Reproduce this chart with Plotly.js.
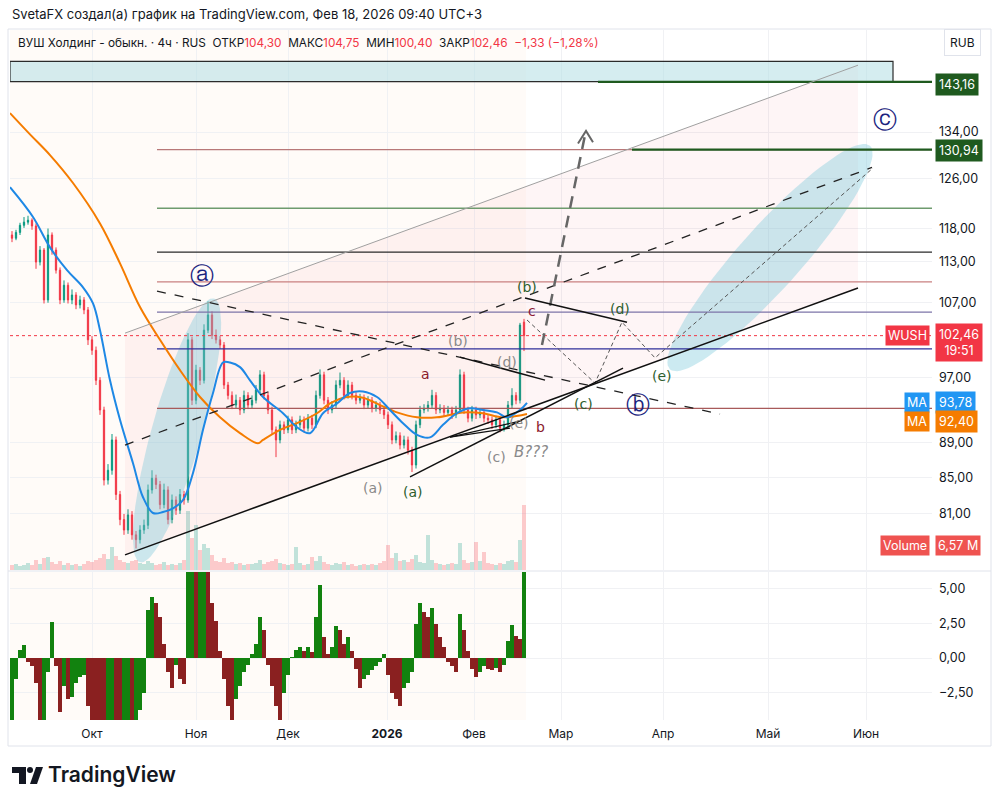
<!DOCTYPE html>
<html><head><meta charset="utf-8">
<script src="https://cdn.plot.ly/plotly-3.0.1.min.js"></script>
<style>body{margin:0;background:#fff}#chart{width:1000px;height:804px}</style>
</head><body><div id="chart"></div>
<script>
// ---------- DATA (4h bars, index units) ----------
const barOpen = [117.0,116.5,117.4,118.5,119.0,119.3,118.4,112.9,114.7,107.4,
117.0,114.7,111.7,107.4,109.5,107.4,108.1,106.7,107.4,106.0,
101.9,100.5,96.6,92.9,84.7,85.8,89.3,83.1,80.4,79.3,
80.9,78.8,78.3,79.3,79.8,83.6,84.9,84.2,82.0,83.6,
80.4,82.5,81.4,83.1,82.5,101.9,94.1,97.9,96.6,103.2,
105.3,102.5,101.9,101.2,96.0,94.7,93.5,94.1,92.9,94.7,
93.5,94.1,95.4,97.3,94.7,92.9,90.5,89.3,91.1,90.5,
91.7,90.5,91.1,91.7,90.7,91.9,91.1,94.7,97.3,94.1,
92.9,93.5,96.0,96.6,94.7,96.0,94.7,94.1,94.4,93.5,
94.1,93.1,93.5,92.9,92.3,91.1,89.3,89.8,88.7,89.3,
88.1,86.4,91.1,92.9,93.1,93.5,94.7,92.9,93.1,92.6,
92.9,92.3,92.9,97.3,92.9,91.9,92.9,92.3,92.6,91.9,
91.7,91.1,91.7,90.7,91.1,93.5,94.7,94.1,104.30];
const barHigh = [117.6,117.8,118.9,119.8,120.0,119.6,118.8,115.3,115.0,118.0,
117.4,115.1,112.1,110.2,109.9,108.9,108.5,108.0,107.8,106.4,
102.4,101.0,97.0,93.3,86.5,90.0,89.7,83.5,81.0,81.5,
81.3,79.2,79.8,80.4,84.2,85.8,85.3,84.6,84.3,84.0,
83.1,82.9,83.7,83.5,102.8,102.3,98.6,98.3,104.0,107.2,
105.8,103.3,102.4,101.6,96.4,95.2,94.8,94.5,95.3,95.1,
94.7,96.0,97.9,97.7,95.1,93.3,90.9,91.6,91.5,92.2,
92.1,91.6,92.2,92.1,92.4,92.3,95.3,98.0,97.7,94.5,
94.0,96.6,97.6,97.0,96.6,96.4,95.1,94.9,94.8,94.6,
94.5,94.0,93.9,93.3,92.7,91.5,90.3,90.2,89.8,89.7,
88.5,91.6,93.4,93.6,94.0,95.4,95.1,93.6,93.5,93.4,
93.3,93.4,98.0,97.7,93.3,93.4,93.3,93.1,93.0,92.3,
92.1,92.2,92.1,91.6,94.0,95.6,95.1,104.2,104.75];
const barLow = [115.9,116.2,117.0,118.1,118.6,117.8,111.9,112.4,106.9,107.0,
114.0,111.2,106.8,107.0,106.9,106.8,106.1,106.2,105.4,101.2,
99.9,96.0,92.3,84.1,84.2,85.3,82.5,79.8,78.8,78.9,
78.3,77.4,77.9,78.9,79.4,83.2,83.7,81.5,81.6,79.9,
80.0,80.9,81.0,82.0,82.2,93.5,93.6,96.0,96.2,102.8,
102.0,101.4,100.7,95.5,94.2,93.0,93.1,92.3,92.5,93.0,
93.1,93.7,95.0,94.2,92.4,90.0,87.3,88.9,90.0,90.1,
90.0,90.1,90.7,90.2,90.3,90.6,90.7,94.3,93.6,92.4,
92.5,93.1,95.6,94.2,94.3,94.2,93.6,93.7,93.0,93.1,
92.6,92.7,92.4,91.8,90.6,88.8,88.9,88.2,88.3,87.6,
85.6,86.0,90.7,92.5,92.7,93.1,92.4,92.5,92.1,92.2,
91.8,91.9,92.5,92.4,91.4,91.5,91.8,91.9,91.4,91.2,
90.6,90.7,90.2,90.3,90.7,93.1,93.6,93.7,100.40];
const barClose = [116.5,117.4,118.5,119.0,119.3,118.4,112.9,114.7,107.4,117.0,
114.7,111.7,107.4,109.5,107.4,108.1,106.7,107.4,106.0,101.9,
100.5,96.6,92.9,84.7,85.8,89.3,83.1,80.4,79.3,80.9,
78.8,78.3,79.3,79.8,83.6,84.9,84.2,82.0,83.6,80.4,
82.5,81.4,83.1,82.5,101.9,94.1,97.9,96.6,103.2,105.3,
102.5,101.9,101.2,96.0,94.7,93.5,94.1,92.9,94.7,93.5,
94.1,95.4,97.3,94.7,92.9,90.5,89.3,91.1,90.5,91.7,
90.5,91.1,91.7,90.7,91.9,91.1,94.7,97.3,94.1,92.9,
93.5,96.0,96.6,94.7,96.0,94.7,94.1,94.4,93.5,94.1,
93.1,93.5,92.9,92.3,91.1,89.3,89.8,88.7,89.3,88.1,
86.4,91.1,92.9,93.1,93.5,94.7,92.9,93.1,92.6,92.9,
92.3,92.9,97.3,92.9,91.9,92.9,92.3,92.6,91.9,91.7,
91.1,91.7,90.7,91.1,93.5,94.7,94.1,103.9,102.46];
const barVolume = [0.5,0.6,0.4,0.5,0.7,0.5,1.0,0.6,1.2,1.3,
0.8,0.6,0.9,0.5,0.7,0.5,0.6,0.4,0.6,0.9,
0.8,1.0,1.2,1.6,1.1,2.3,1.4,1.0,0.8,0.7,
0.9,1.0,0.7,0.6,0.9,0.7,0.5,0.6,0.8,0.5,
0.6,0.5,0.7,1.0,6.0,3.2,4.5,2.0,2.6,2.2,
1.5,0.9,0.8,1.2,0.7,0.8,0.6,0.7,0.5,0.6,
0.6,0.7,1.0,0.6,0.8,0.9,1.1,0.7,0.6,0.5,
0.6,2.3,0.7,0.5,0.6,1.3,0.9,1.4,0.8,0.6,
0.5,0.7,0.6,0.8,0.5,0.6,0.4,0.5,0.6,0.5,
0.6,0.5,0.7,0.9,2.5,1.2,1.7,0.9,1.0,0.8,
1.1,1.5,0.8,0.7,3.5,1.0,0.7,0.6,0.5,0.6,
0.7,0.6,2.7,1.0,0.7,0.8,2.8,0.9,1.8,0.7,
0.6,0.5,0.7,0.6,0.9,1.0,0.8,3.0,6.57];
const oscValues = [-5.0,-1.5,0.6,0.95,-0.3,-0.6,-1.8,-5.2,-5.0,-1.0,
2.6,-0.6,-3.9,-2.0,-3.0,-2.8,-1.8,-1.4,-1.2,-3.5,
-4.8,-5.5,-6.0,-6.5,-6.0,-5.5,-6.2,-6.8,-6.5,-6.0,
-6.4,-6.2,-3.8,-2.5,3.5,4.4,4.0,3.0,1.0,-1.0,
-2.2,-0.5,-1.5,-1.9,7.0,8.0,7.5,8.2,8.5,8.0,
4.0,2.7,0.5,-1.5,-3.5,-4.8,-3.0,-2.0,-1.0,-0.5,
0.3,1.0,3.0,2.0,-0.5,-2.0,-3.5,-4.7,-2.5,-1.2,
0.1,0.6,0.8,0.5,0.8,0.4,3.0,5.3,1.5,0.3,
0.8,2.3,2.0,1.0,1.5,0.5,-0.8,-2.2,-1.5,-1.2,
-0.9,-0.6,-0.3,0.3,-1.2,-2.5,-3.0,-3.5,-2.2,-1.8,
-1.0,2.5,4.0,3.3,3.0,3.6,2.5,1.5,0.8,-0.3,
-0.6,-1.0,3.2,2.0,0.5,-0.8,-1.4,-1.0,-0.6,-0.8,
-0.9,-0.7,-1.0,-0.5,1.2,2.4,1.6,1.4,7.0];
const maBlueX = [-0.5,5.25,9.5,13.75,17.75,20.25,22,24.5,27,30.25,32.75,35.25,37.75,40.25,42.75,45.25,47.75,50.25,52.75,54.5,57,59.5,62.75,67.75,71.25,74.5,77.75,81.25,84.5,87.75,91.25,94.5,97.75,101.25,104.5,107.75,111.25,114.5,117.75,121.25,123.75,127,128.75];
const maBlueY = [124.6,119.8,115.1,111.7,109.2,106.9,103.2,96.6,91.7,86.6,82.8,81.1,81.2,81.6,82.5,85.5,90.5,95.0,98.9,98.9,98.3,96.6,94.5,92.5,90.8,90.1,92.5,93.7,95.0,95.2,94.5,92.9,91.3,89.9,89.6,91.1,92.5,93.1,92.9,92.6,92.0,92.9,93.78];
const maOrangeX = [-0.5,4.5,9.5,15.25,22,27,32,37,42,47,52,57,61.5,62.75,67,71.25,76.25,79.5,83.75,87.75,92,96.25,101.25,106.25,112.75,117.75,122.75,128.75];
const maOrangeY = [137.4,133.6,130.0,125.3,118.8,112.7,106.4,101.9,97.9,94.5,92.0,90.1,88.9,89.3,90.5,91.3,92.5,93.7,94.5,94.4,93.5,92.6,92.0,92.0,92.6,92.5,92.0,92.40];
const monthTickVals = [20,46,69,93.75,115.5,137.25,162.75,189,213.5];
const monthTickText = ['Окт','Ноя','Дек','<b>2026</b>','Фев','Мар','Апр','Май','Июн'];
const priceTickVals = [81,85,89,97,107,113,118,126,134];
const priceTickText = ['81,00','85,00','89,00','97,00','107,00','113,00','118,00','126,00','134,00'];
const oscTickVals = [-2.5,0,2.5,5];
const oscTickText = ['−2,50','0,00','2,50','5,00'];
// horizontal levels drawn by author
const levelPrices = [130.94,121.2,114.4,110.0,105.7,100.7,93.1];
const levelColors = ['#b87878','#6e9b6e','#2a2a2a','#c98080','#7c74a8','#2f2f9a','#a85a5a'];
const targetLevels = [143.16,130.94];
const targetStartIdx = [146.5,155];
// drawings (bar index, price)
const channelUpper = [[28.25,102.8],[211.5,146.35]];
const channelLower = [[28.25,76.75],[211.5,109.1]];
const dashedDown = [[36.25,108.66],[177,92.4]];
const dashedUp = [[28.25,88.7],[215,127.9]];
const wavePath = [[128.75,104.6],[145.75,96.25],[152.5,104.3],[160.75,99.5],[215.25,127.8]];
const bigArrow = [[132.5,101.2],[143.25,133.45]];
const bigArrowHead = [[141.5,132.0],[143.5,134.2],[145.25,132.2]];
const supportLine = [[99.5,85.05],[152.75,98.17]];
const greyBD = [[112,99.6],[133.25,96.63]];
const greenBD = [[128.25,107.66],[153.75,104.3]];
const greyE1 = [[109.5,89.64],[124.5,90.71]];
const greyE2 = [[109.5,89.64],[127.5,91.6]];
const topBox = {x0:-0.5,x1:220.25,p0:143.2,p1:147.1};
const ellipseLeft = [[32.0,76.0],[50.5,107.6]];
const ellipseRight = [[164.5,98.0],[214.5,131.6]];
const lastPrice = 102.46, maBlueLast = 93.78, maOrangeLast = 92.40;
const waveLabels = [
 {t:'ⓐ',x:47.5,p:110.8,c:'#1a237e',s:24},
 {t:'ⓑ',x:156.5,p:93.5,c:'#1a237e',s:24},
 {t:'ⓒ',x:218.25,p:136.1,c:'#1a237e',s:24},
 {t:'(b)',x:128.75,p:109.3,c:'#2e5e2e',s:14},
 {t:'c',x:130,p:105.8,c:'#8b1a3a',s:14},
 {t:'(d)',x:152,p:106.1,c:'#2e5e2e',s:14},
 {t:'(e)',x:162.5,p:97.1,c:'#2e5e2e',s:14},
 {t:'(c)',x:142.75,p:93.6,c:'#2e5e2e',s:14},
 {t:'(a)',x:100.25,p:83.4,c:'#2e5e2e',s:14},
 {t:'(b)',x:111.5,p:101.7,c:'#8a8a8a',s:14},
 {t:'(d)',x:123.75,p:98.9,c:'#8a8a8a',s:14},
 {t:'(e)',x:126.75,p:91.3,c:'#8a8a8a',s:14},
 {t:'(c)',x:121,p:87.3,c:'#8a8a8a',s:14},
 {t:'(a)',x:90.25,p:83.8,c:'#8a8a8a',s:14},
 {t:'a',x:103.25,p:97.4,c:'#8b1a2b',s:14},
 {t:'b',x:132,p:90.8,c:'#8b1a2b',s:14},
 {t:'<i>B???</i>',x:129.75,p:87.9,c:'#8a8a8a',s:15}
];

// ---------- BUILD ----------
const idx = barClose.map((_, i) => i);
const L = 10, R = 68, T = 30, B = 84, W = 1000 - L - R, H = 804 - T - B;
const pxX = x => (x - L) / W;
const pxY = y => (720 - y) / H;
const K = 1747.4; // px per decade on price axis, 4 px per bar

function line(pts, color, width, dash) {
  return {type:'scatter', mode:'lines', x:pts.map(p=>p[0]), y:pts.map(p=>p[1]),
    xaxis:'x', yaxis:'y2', line:{color, width, dash:dash||'solid'}, hoverinfo:'skip', showlegend:false};
}
function ellipse(pair, halfW, color) {
  const [p1, p2] = pair;
  const u1=p1[0]*4, v1=Math.log10(p1[1])*K, u2=p2[0]*4, v2=Math.log10(p2[1])*K;
  const cu=(u1+u2)/2, cv=(v1+v2)/2, a=Math.hypot(u2-u1,v2-v1)/2, ang=Math.atan2(v2-v1,u2-u1);
  const xs=[], ys=[];
  for (let k=0;k<=90;k++){const t=k/90*2*Math.PI, eu=a*Math.cos(t), ev=halfW*Math.sin(t);
    xs.push((cu+eu*Math.cos(ang)-ev*Math.sin(ang))/4);
    ys.push(Math.pow(10,(cv+eu*Math.sin(ang)+ev*Math.cos(ang))/K));}
  return {type:'scatter',mode:'lines',x:xs,y:ys,fill:'toself',fillcolor:color,line:{width:0},
    xaxis:'x',yaxis:'y2',hoverinfo:'skip',showlegend:false};
}

const traces = [];
traces.push({type:'bar', x:idx, y:barVolume, xaxis:'x', yaxis:'y',
  marker:{color:barClose.map((c,i)=> c>=barOpen[i] ? 'rgba(8,153,129,0.25)' : 'rgba(242,54,69,0.25)'), line:{width:0}},
  hoverinfo:'skip', showlegend:false});
traces.push({type:'scatter',mode:'lines',
  x:[channelUpper[0][0],channelUpper[1][0],channelLower[1][0],channelLower[0][0],channelUpper[0][0]],
  y:[channelUpper[0][1],channelUpper[1][1],channelLower[1][1],channelLower[0][1],channelUpper[0][1]],
  fill:'toself', fillcolor:'rgba(242,80,110,0.06)', line:{width:0}, xaxis:'x', yaxis:'y2', hoverinfo:'skip', showlegend:false});
traces.push({type:'scatter',mode:'lines',
  x:[topBox.x0,topBox.x1,topBox.x1,topBox.x0,topBox.x0], y:[topBox.p0,topBox.p0,topBox.p1,topBox.p1,topBox.p0],
  fill:'toself', fillcolor:'rgba(178,223,228,0.55)', line:{color:'#2b2b2b',width:1.2}, xaxis:'x', yaxis:'y2', hoverinfo:'skip', showlegend:false});
traces.push(ellipse(ellipseLeft, 25, 'rgba(120,200,218,0.38)'));
traces.push(ellipse(ellipseRight, 31, 'rgba(120,200,218,0.38)'));
levelPrices.forEach((p,i)=> traces.push(line([[36.25,p],[230,p]], levelColors[i], 1.3)));
targetLevels.forEach((p,i)=> traces.push(line([[targetStartIdx[i],p],[230,p]], '#1f5a1f', 2.2)));
traces.push(line([[-0.5,lastPrice],[230,lastPrice]], '#f23645', 1, 'dot'));
traces.push({type:'candlestick', x:idx, open:barOpen, high:barHigh, low:barLow, close:barClose,
  xaxis:'x', yaxis:'y2', whiskerwidth:0,
  increasing:{line:{color:'#089981',width:1}, fillcolor:'#089981'},
  decreasing:{line:{color:'#f23645',width:1}, fillcolor:'#f23645'},
  hoverinfo:'skip', showlegend:false});
traces.push({type:'scatter',mode:'lines',x:maOrangeX,y:maOrangeY,xaxis:'x',yaxis:'y2',line:{color:'#f57c00',width:2,shape:'spline'},hoverinfo:'skip',showlegend:false});
traces.push({type:'scatter',mode:'lines',x:maBlueX,y:maBlueY,xaxis:'x',yaxis:'y2',line:{color:'#1e88e5',width:2,shape:'spline'},hoverinfo:'skip',showlegend:false});
traces.push(line(channelUpper,'#a0a0a0',1));
traces.push(line(channelLower,'#111111',1.5));
traces.push(line(dashedDown,'#222222',1.3,'dash'));
traces.push(line(dashedUp,'#222222',1.3,'dash'));
traces.push(line(wavePath,'#555555',1,'4px,3px'));
traces.push(line(bigArrow,'#666666',2.5,'12px,8px'));
traces.push(line(bigArrowHead,'#666666',2));
traces.push(line(supportLine,'#111111',1.5));
traces.push(line(greyBD,'#111111',1.5));
traces.push(line(greenBD,'#111111',1.5));
traces.push(line(greyE1,'#111111',1.2));
traces.push(line(greyE2,'#111111',1.2));
traces.push({type:'bar', x:idx, y:oscValues, xaxis:'x', yaxis:'y3',
  marker:{color:oscValues.map((v,i)=> (i===0 || v>=oscValues[i-1]) ? '#12820f' : '#8a2020'), line:{width:0}},
  hoverinfo:'skip', showlegend:false});

const annotations = [];
const red = '#f23645';
const F = 'Inter, Roboto, sans-serif';
annotations.push({xref:'paper',yref:'paper',x:pxX(10),y:pxY(14),xanchor:'left',yanchor:'middle',showarrow:false,
  text:'SvetaFX создал(а) график на TradingView.com, Фев 18, 2026 09:40 UTC+3',font:{family:F,size:13,color:'#131722'}});
annotations.push({xref:'paper',yref:'paper',x:pxX(16),y:pxY(43),xanchor:'left',yanchor:'middle',showarrow:false,
  text:`ВУШ Холдинг - обыкн. · 4ч · RUS  ОТКР<span style="color:${red}">104,30</span>  МАКС<span style="color:${red}">104,75</span>  МИН<span style="color:${red}">100,40</span>  ЗАКР<span style="color:${red}">102,46  −1,33 (−1,28%)</span>`,
  font:{family:F,size:11.8,color:'#131722'}});
waveLabels.forEach(l=> annotations.push({xref:'x',yref:'y2',x:l.x,y:Math.log10(l.p),text:l.t,showarrow:false,
  font:{family:'DejaVu Sans, Inter, sans-serif',size:l.s,color:l.c}}));
function scaleLabel(p, text, bg, yshift) {
  annotations.push({xref:'paper',yref:'y2',x:1+3/W,y:Math.log10(p),xanchor:'left',yanchor:'middle',yshift:yshift||0,
    text, showarrow:false, bgcolor:bg, borderpad:3, font:{family:F,size:12.5,color:'#fff'}});
}
function tagLabel(p, text, bg, yshift) {
  annotations.push({xref:'paper',yref:'y2',x:1-2/W,y:Math.log10(p),xanchor:'right',yanchor:'middle',yshift:yshift||0,
    text, showarrow:false, bgcolor:bg, borderpad:2, font:{family:F,size:12.5,color:'#fff'}});
}
scaleLabel(targetLevels[0], '143,16', '#1f5a1f', -3);
scaleLabel(targetLevels[1], '130,94', '#1f5a1f', -1);
scaleLabel(lastPrice, '102,46<br>19:51', red, -7);
tagLabel(lastPrice, 'WUSH', red, 0);
scaleLabel(maBlueLast, '93,78', '#2196f3', 0);
tagLabel(maBlueLast, 'MA', '#2196f3', 0);
scaleLabel(maOrangeLast, '92,40', '#f57c00', -7);
tagLabel(maOrangeLast, 'MA', '#f57c00', -7);
annotations.push({xref:'paper',yref:'paper',x:1+3/W,y:pxY(545),xanchor:'left',yanchor:'middle',text:'6,57 M',showarrow:false,
  bgcolor:'#ef5350',borderpad:2,font:{family:F,size:12.5,color:'#fff'}});
annotations.push({xref:'paper',yref:'paper',x:1-2/W,y:pxY(545),xanchor:'right',yanchor:'middle',text:'Volume',showarrow:false,
  bgcolor:'#ef5350',borderpad:2,font:{family:F,size:12.5,color:'#fff'}});
annotations.push({xref:'paper',yref:'paper',x:pxX(962),y:pxY(42),xanchor:'center',yanchor:'middle',text:'RUB',showarrow:false,
  bgcolor:'#ffffff',bordercolor:'#e0e3eb',borderwidth:1,borderpad:5,font:{family:F,size:12,color:'#131722'}});
annotations.push({xref:'paper',yref:'paper',x:pxX(46),y:pxY(775),xanchor:'left',yanchor:'middle',text:'TradingView',showarrow:false,
  font:{family:F,size:21,color:'#131722',weight:600}});

const shapes = [
  {type:'rect',xref:'x',yref:'paper',x0:-0.5,x1:128.5,y0:pxY(570),y1:1,fillcolor:'rgba(255,170,120,0.05)',line:{width:0},layer:'below'},
  {type:'rect',xref:'x',yref:'paper',x0:-0.5,x1:128.5,y0:0,y1:pxY(572),fillcolor:'rgba(255,170,120,0.05)',line:{width:0},layer:'below'},
  {type:'line',xref:'paper',yref:'paper',x0:pxX(8),x1:pxX(991),y0:pxY(571),y1:pxY(571),line:{color:'#e0e3eb',width:1}},
  {type:'rect',xref:'paper',yref:'paper',x0:pxX(8),x1:pxX(991),y0:pxY(746),y1:pxY(29),line:{color:'#e0e3eb',width:1}},
  {type:'rect',xref:'paper',yref:'paper',x0:pxX(12),x1:pxX(26),y0:pxY(773),y1:pxY(767),fillcolor:'#131722',line:{width:0}},
  {type:'rect',xref:'paper',yref:'paper',x0:pxX(19),x1:pxX(26),y0:pxY(784),y1:pxY(767),fillcolor:'#131722',line:{width:0}},
  {type:'circle',xref:'paper',yref:'paper',x0:pxX(27),x1:pxX(33),y0:pxY(773),y1:pxY(767),fillcolor:'#131722',line:{width:0}},
  {type:'path',xref:'paper',yref:'paper',path:`M ${pxX(30)} ${pxY(784)} L ${pxX(36)} ${pxY(767)} L ${pxX(43)} ${pxY(767)} L ${pxX(37)} ${pxY(784)} Z`,fillcolor:'#131722',line:{width:0}}
];

const layout = {
  width:1000, height:804, margin:{l:L,r:R,t:T,b:B}, paper_bgcolor:'#fff', plot_bgcolor:'#fff',
  showlegend:false, hovermode:false, bargap:0, boxgap:0.55,
  font:{family:F, color:'#131722'},
  xaxis:{range:[-0.5,230], anchor:'y3', tickvals:monthTickVals, ticktext:monthTickText, showgrid:true, gridcolor:'#f0f1f4',
    zeroline:false, showline:false, ticks:'', tickfont:{size:12,color:'#131722'}, ticklabelstandoff:5, rangeslider:{visible:false}, fixedrange:true},
  yaxis:{domain:[pxY(570),1], range:[0,54.6], visible:false, fixedrange:true},
  yaxis2:{overlaying:'y', side:'right', type:'log', range:[Math.log10(75.23), Math.log10(153.3)],
    tickvals:priceTickVals, ticktext:priceTickText, showgrid:true, gridcolor:'#f0f1f4', zeroline:false, ticks:'',
    tickfont:{size:12.5,color:'#131722'}, ticklabelstandoff:6, fixedrange:true},
  yaxis3:{domain:[0,pxY(572)], range:[-4.49,6.23], side:'right', anchor:'x', tickvals:oscTickVals, ticktext:oscTickText,
    showgrid:true, gridcolor:'#f0f1f4', zeroline:false, ticks:'', tickfont:{size:12.5,color:'#131722'}, ticklabelstandoff:6, fixedrange:true},
  annotations, shapes
};
Plotly.newPlot('chart', traces, layout, {displayModeBar:false, staticPlot:true});
</script></body></html>
